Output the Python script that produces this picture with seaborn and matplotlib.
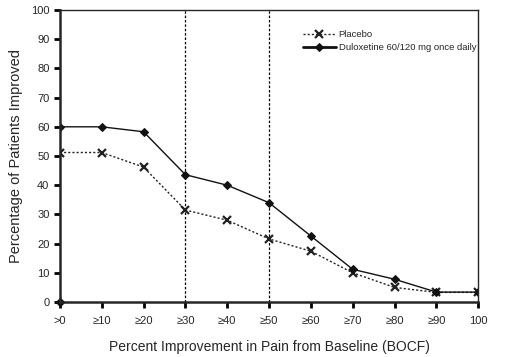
import numpy as np
import pandas as pd
import matplotlib.pyplot as plt
import seaborn as sns

# data
tick_labels = ['>0', '≥10', '≥20', '≥30', '≥40', '≥50', '≥60', '≥70', '≥80', '≥90', '100']
placebo = [51.2, 51.2, 46.2, 31.5, 28.0, 21.6, 17.4, 10.0, 5.0, 3.3, 3.3]
duloxetine = [60.0, 60.0, 58.3, 43.6, 40.0, 34.0, 22.6, 11.2, 7.8, 3.4, 3.4]
ref_lines = [3, 5]

df = pd.DataFrame({'pos': np.arange(len(tick_labels)),
                   'Placebo': placebo,
                   'Duloxetine 60/120 mg once daily': duloxetine})

sns.set_style('ticks')
plt.rcParams['font.family'] = ['Liberation Sans', 'DejaVu Sans']

fig = plt.figure(figsize=(5.12, 3.57), dpi=100)
ax = fig.add_axes([0.117, 0.154, 0.817, 0.818])

for x in ref_lines:
    ax.axvline(x, color='black', linestyle=(0, (2, 1.5)), linewidth=0.9, zorder=1)

sns.lineplot(data=df, x='pos', y='Placebo', ax=ax, color='#222222',
             linestyle=(0, (1.5, 1.5)), linewidth=1.0, marker='x',
             markersize=6, markeredgewidth=1.6, markeredgecolor='#222222',
             label='Placebo')
sns.lineplot(data=df, x='pos', y='Duloxetine 60/120 mg once daily', ax=ax,
             color='#111111', linewidth=1.0, marker='D', markersize=4.5,
             markeredgecolor='#111111', label='Duloxetine 60/120 mg once daily')
# stray marker at the origin in the source figure
ax.plot([0], [0], marker='D', color='#111111', markersize=4.5, clip_on=False)

ax.set_xlim(0, 10)
ax.set_ylim(0, 100)
ax.set_xticks(df['pos'])
ax.set_xticklabels(tick_labels)
ax.set_yticks(range(0, 101, 10))
ax.tick_params(axis='both', labelsize=8, width=2, length=4, color='black')
ax.tick_params(axis='x', pad=6)

for side in ['left', 'bottom']:
    ax.spines[side].set_linewidth(1.8)
for side in ['top', 'right']:
    ax.spines[side].set_visible(True)
    ax.spines[side].set_linewidth(1.0)

ax.set_xlabel('Percent Improvement in Pain from Baseline (BOCF)', fontsize=10, labelpad=10)
ax.set_ylabel('Percentage of Patients Improved', fontsize=10.5, labelpad=6)

leg = ax.legend(loc='upper left', bbox_to_anchor=(0.56, 0.96), frameon=False,
                fontsize=6.8, handlelength=3.5, handletextpad=0.3, labelspacing=0.45)
leg.get_lines()[1].set_linewidth(2.0)

fig.savefig('out.png', dpi=100)
